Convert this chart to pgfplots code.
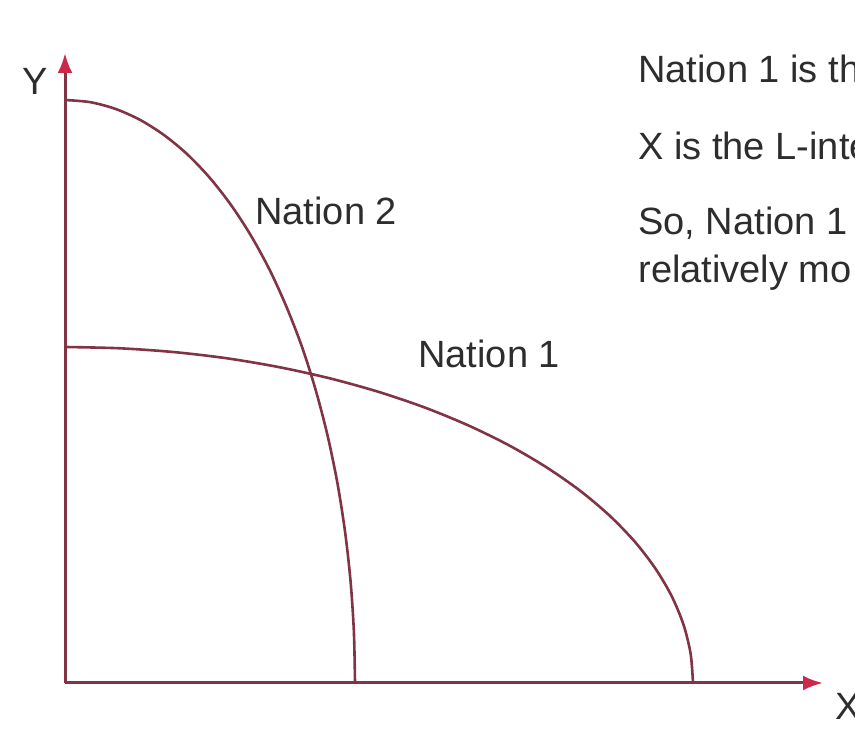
\documentclass[border=0pt]{standalone}
\usepackage{fontspec}
\setmainfont{Liberation Sans}
\usepackage{pgfplots}
\pgfplotsset{compat=1.18}
\usetikzlibrary{arrows.meta}
\definecolor{linecol}{RGB}{128,52,68}
\definecolor{arrowcol}{RGB}{205,40,75}
\definecolor{txt}{RGB}{45,45,45}
\begin{document}
\begin{tikzpicture}[lbl/.style={font=\fontsize{19}{23}\selectfont, text=txt, inner sep=0pt, anchor=base west}]
\useasboundingbox (0,0) rectangle (427.5pt,365.5pt);
\clip (0,0) rectangle (427.5pt,365.5pt);
\begin{axis}[at={(0,0)}, anchor=south west, x=0.5pt, y=0.5pt,
  xmin=-65, xmax=790, ymin=-48, ymax=683, enlargelimits=false,
  hide axis, clip=false]
% axes
\addplot[linecol, line width=1.5pt, -{Latex[length=10pt,width=7.5pt,color=arrowcol]}] coordinates {(0,0) (0,630)};
\addplot[linecol, line width=1.5pt, -{Latex[length=10pt,width=7.5pt,color=arrowcol]}] coordinates {(0,0) (758,0)};
% Nation 2
\addplot[linecol, line width=1.3pt, smooth] coordinates {
(0,583) (25.3,580.8) (50.4,574.1) (75.1,563.1) (99.2,547.8) (122.6,528.4)
(145,504.9) (166.3,477.6) (186.4,446.6) (205.1,412.2) (222.1,374.7)
(237.6,334.4) (251.1,291.5) (262.8,246.4) (272.5,199.4) (280.1,150.9)
(285.6,101.2) (288.9,50.8) (290,0)};
% Nation 1
\addplot[linecol, line width=1.3pt, smooth] coordinates {
(0,336) (54.8,334.7) (109.0,330.9) (162.5,324.6) (214.8,315.7) (265.4,304.5)
(314,291.0) (360.2,275.3) (403.7,257.4) (444.1,237.6) (481.0,216.0)
(514.5,192.7) (543.9,168) (569.2,142.0) (590.1,114.9) (606.6,87.0)
(618.5,58.3) (625.6,29.3) (628,0)};
% labels
\node[lbl] at (axis cs:-43,588) {Y};
\node[lbl] at (axis cs:770,-37) {X};
\node[lbl] at (axis cs:190,458) {Nation 2};
\node[lbl] at (axis cs:353,315) {Nation 1};
\node[lbl] at (axis cs:573,600) {Nation 1 is th};
\node[lbl] at (axis cs:573,523) {X is the L-inte};
\node[lbl] at (axis cs:573,448) {So, Nation 1};
\node[lbl] at (axis cs:573,400) {relatively mo};
\end{axis}
\end{tikzpicture}
\end{document}
